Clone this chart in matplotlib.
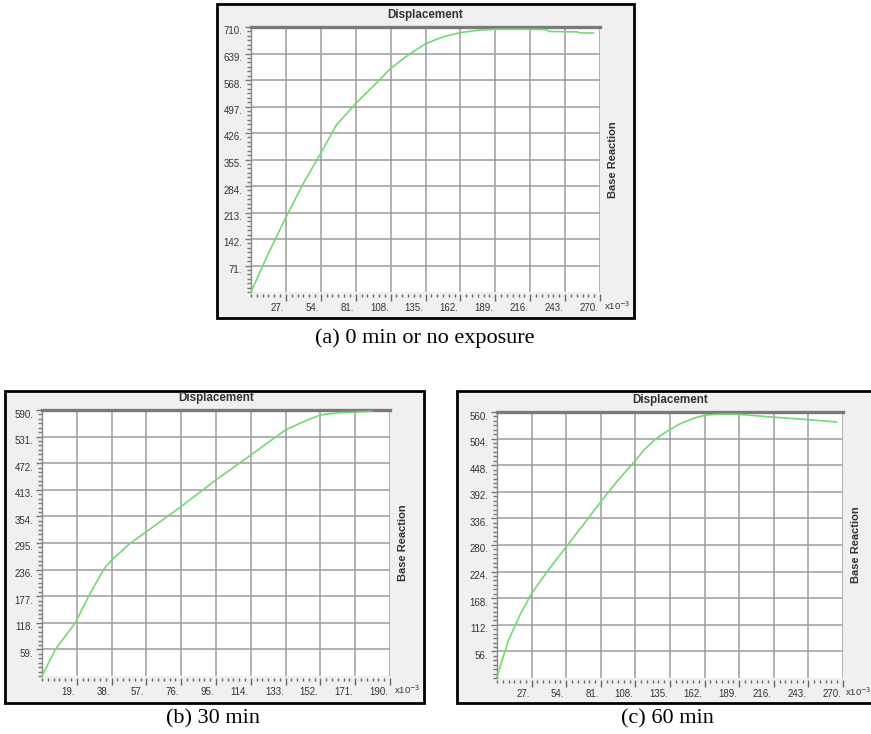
import matplotlib
matplotlib.use('Agg')
import matplotlib.pyplot as plt
from matplotlib.patches import Rectangle
from matplotlib.ticker import AutoMinorLocator
from matplotlib.transforms import ScaledTranslation

# ---------------- data ----------------
# (a) 0 min or no exposure  (displacement in x10^-3, base reaction)
a_disp = [0, 13, 27, 40, 54, 66, 81, 95, 108, 122, 135, 148, 162, 175, 189, 216, 228, 231, 252, 255, 265]
a_react = [0, 100, 200, 288, 372, 447, 505, 553, 599, 636, 665, 683, 695, 701, 704, 704, 703, 698, 697, 694, 694]
a_xticks = [27, 54, 81, 108, 135, 162, 189, 216, 243, 270]
a_yticks = [71, 142, 213, 284, 355, 426, 497, 568, 639, 710]

# (b) 30 min
b_disp = [0, 7.3, 18.2, 25.5, 33.6, 38, 48, 57, 76, 95, 114, 133, 145, 152, 162, 171, 180]
b_react = [0, 59, 118, 177, 236, 257, 294, 320, 376, 435, 490, 546, 568, 579, 584, 585, 587]
b_xticks = [19, 38, 57, 76, 95, 114, 133, 152, 171, 190]
b_yticks = [59, 118, 177, 236, 295, 354, 413, 472, 531, 590]

# (c) 60 min
c_disp = [0, 9, 18, 27, 40, 54, 68, 81, 94, 108, 115, 123, 129, 135, 142, 149, 155, 162, 170, 180, 189, 216, 243, 265]
c_react = [3, 80, 133, 178, 227, 276, 325, 371, 415, 458, 481, 501, 513, 523, 534, 542, 548, 553, 555, 555, 555, 549, 544, 539]
c_xticks = [27, 54, 81, 108, 135, 162, 189, 216, 243, 270]
c_yticks = [56, 112, 168, 224, 280, 336, 392, 448, 504, 560]

captions = ["(a) 0 min or no exposure", "(b) 30 min", "(c) 60 min"]
title_text = "Displacement"
ylabel_text = "Base Reaction"
scale_text = r"x10$^{-3}$"

# ---------------- figure ----------------
W, H = 871, 734
fig = plt.figure(figsize=(W / 100, H / 100), dpi=100)
fig.patch.set_facecolor('white')


def fx(px):
    return px / W


def fy(py):
    return 1 - py / H


def px2pt(p):
    return p * 72 / 100


def panel(box, axbox, xs, ys, xticks, yticks, xmax, ymax, caption, cap_xy, ylab_x, scale_dx):
    x0, y0, x1, y1 = box
    fig.add_artist(Rectangle((fx(x0), fy(y1)), (x1 - x0) / W, (y1 - y0) / H,
                             transform=fig.transFigure, facecolor='#f0f0f0',
                             edgecolor='black', linewidth=2.0, zorder=0))
    ax0, ay0, ax1, ay1 = axbox
    ax = fig.add_axes([fx(ax0), fy(ay1), (ax1 - ax0) / W, (ay1 - ay0) / H])
    ax.set_facecolor('white')
    ax.plot(xs, ys, color='#6fdc6f', linewidth=1.2, zorder=3, clip_on=False)
    ax.set_xlim(0, xmax)
    ax.set_ylim(0, ymax)

    ax.set_xticks(xticks)
    ax.set_yticks(yticks)
    ax.xaxis.set_minor_locator(AutoMinorLocator(6))
    ax.yaxis.set_minor_locator(AutoMinorLocator(6))
    ax.grid(True, which='major', color='#9c9c9c', linewidth=1.1, zorder=1)
    ax.set_axisbelow(True)

    for s in ['right', 'bottom']:
        ax.spines[s].set_visible(False)
    ax.spines['bottom'].set_position(('outward', px2pt(2)))
    ax.spines['top'].set_color('#7a7a7a')
    ax.spines['top'].set_linewidth(2.4)
    ax.spines['left'].set_color('#8a8a8a')
    ax.spines['left'].set_linewidth(1.0)

    ax.tick_params(axis='x', which='major', direction='out', length=px2pt(7), width=1.0,
                   color='#666666', pad=1.5, labelsize=7, labelcolor='#333333')
    ax.tick_params(axis='x', which='minor', direction='out', length=px2pt(3), width=1.0,
                   color='#666666')
    ax.tick_params(axis='y', which='major', direction='out', length=px2pt(6), width=1.0,
                   color='#777777', pad=2.0, labelsize=7, labelcolor='#333333')
    ax.tick_params(axis='y', which='minor', direction='out', length=px2pt(4), width=1.0,
                   color='#777777')

    ax.set_xticklabels([f"{v}." for v in xticks], family='Liberation Sans')
    ax.set_yticklabels([f"{v}." for v in yticks], family='Liberation Sans')
    for lbl in ax.get_xticklabels():
        lbl.set_horizontalalignment('right')
        lbl.set_transform(lbl.get_transform() + ScaledTranslation(-2 / 100, 0, fig.dpi_scale_trans))
    for lbl in ax.get_yticklabels():
        lbl.set_transform(lbl.get_transform() + ScaledTranslation(0, -3.5 / 100, fig.dpi_scale_trans))

    cx = (ax0 + ax1) / 2
    fig.text(fx(cx), fy(ay0 - 12), title_text, ha='center', va='center',
             fontsize=8.4, fontweight='bold', family='Liberation Sans', color='#333333')
    fig.text(fx(ylab_x), fy((ay0 + ay1) / 2), ylabel_text, rotation=90, ha='center',
             va='center', fontsize=8, fontweight='bold', family='Liberation Sans', color='#333333')
    fig.text(fx(ax1 + scale_dx), fy(ay1 + 14), scale_text, ha='left', va='center',
             fontsize=6.8, family='Liberation Sans', color='#333333')
    fig.text(fx(cap_xy[0]), fy(cap_xy[1]), caption, ha='center', va='baseline',
             fontsize=16, family='Liberation Serif', color='black')
    return ax


panel((217, 4, 634, 318), (251, 27, 600, 292), a_disp, a_react, a_xticks, a_yticks,
      270, 710, captions[0], (425, 343), 613, 4)
panel((5, 391, 424, 703), (42, 410, 390, 676), b_disp, b_react, b_xticks, b_yticks,
      190, 590, captions[1], (213, 723), 403, 4)
panel((457, 391, 880, 703), (497, 412, 843, 678), c_disp, c_react, c_xticks, c_yticks,
      270, 560, captions[2], (667, 723), 856, 2)

fig.savefig('out.png', dpi=100, facecolor='white')
